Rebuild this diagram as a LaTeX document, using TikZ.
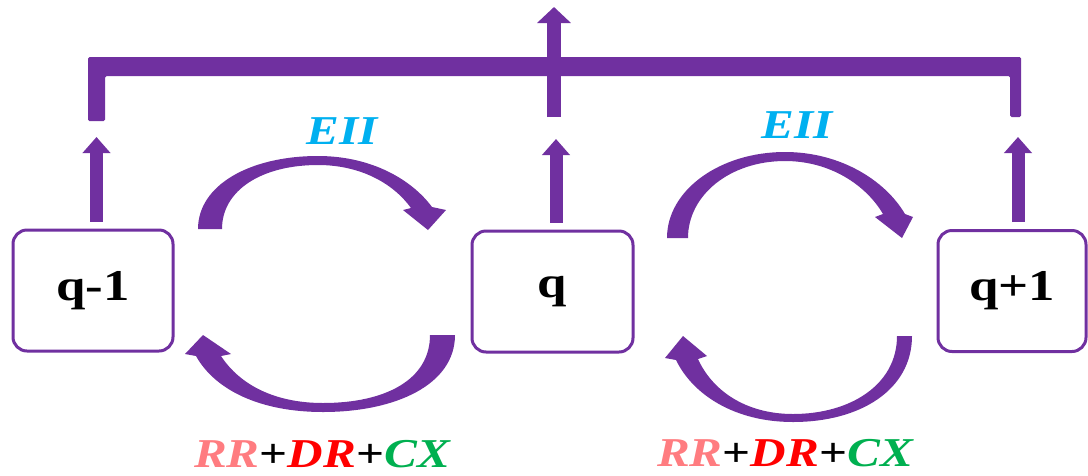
\documentclass[tikz,border=0pt]{standalone}
\usepackage{graphicx}
\usepackage{fontspec}
\setmainfont{Liberation Serif}
\usetikzlibrary{arrows.meta}
\definecolor{vio}{HTML}{7030A0}
\definecolor{eii}{HTML}{00B0F0}
\definecolor{rrc}{HTML}{FF7C80}
\definecolor{drc}{HTML}{FF0000}
\definecolor{cxc}{HTML}{00B050}
\newcommand{\wide}[1]{\scalebox{1.2}[1]{#1}}
\begin{document}
\begin{tikzpicture}[x=1pt,y=-1pt,
  statebox/.style={draw=vio, line width=3pt, rounded corners=14pt, fill=white, inner sep=0pt,
    font=\rmfamily\bfseries\fontsize{44}{48}\selectfont},
  uparrow/.style={draw=vio, line width=13pt, -{Triangle[width=27pt,length=16pt]}},
  curvearrow/.style={fill=vio},
  ratelabel/.style={font=\rmfamily\bfseries\itshape\fontsize{41}{44}\selectfont, inner sep=0pt},
  bracketbar/.style={fill=vio, rounded corners=1.5pt}]
\useasboundingbox[fill=white] (0,0) rectangle (1088,475);

% state boxes
\node[statebox, minimum width=160pt, minimum height=121pt] (qm) at (93,290.5) {\wide{q-1}};
\node[statebox, minimum width=161pt, minimum height=121pt] (q) at (552.5,291.5) {\wide{q}};
\node[statebox, minimum width=148pt, minimum height=121pt] (qp) at (1012,291) {\wide{q+1}};

% tips of small arrows
\coordinate (tL) at (96.5,137);
\coordinate (tM) at (556,139);
\coordinate (tR) at (1018,137);
\draw[uparrow, shorten <=7pt] (qm.north -| tL) -- (tL);
\draw[uparrow, shorten <=7pt] (q.north -| tM) -- (tM);
\draw[uparrow, shorten <=7pt] (qp.north -| tR) -- (tR);

% bracket
\fill[bracketbar] (88,121) -- (88,57) -- (1021,57) -- (1021,117) -- (1010,117)
  -- (1010,76) -- (105,76) -- (105,121) -- cycle;

% central output arrow
\coordinate (stemB) at (554,117);
\coordinate (stemT) at (554,7);
\draw[draw=vio, line width=14pt, -{Triangle[width=33pt,length=16pt]}] (stemB) -- (stemT);

% curved arrows (EII, top)
\fill[curvearrow] (198,229) .. controls (198,185) and (250,156) .. (318,156)
  .. controls (372,156) and (412,180) .. (432,207) -- (446,210) -- (428,230) -- (403,210) -- (411,208)
  .. controls (393,183) and (360,165) .. (318,165)
  .. controls (262,165) and (222,190) .. (222,229) -- cycle;
\fill[curvearrow] (667,238) .. controls (667,190) and (720,152) .. (785,152)
  .. controls (840,152) and (885,180) .. (905,214) -- (913,217) -- (902,238) -- (875,217) -- (883,214)
  .. controls (866,185) and (830,161) .. (785,161)
  .. controls (730,161) and (688,195) .. (688,238) -- cycle;

% curved arrows (bottom)
\fill[curvearrow] (455,335) .. controls (455,385) and (395,412) .. (323,412)
  .. controls (260,412) and (215,390) .. (196,356) -- (185,354) -- (203,335) -- (231,354) -- (221,356)
  .. controls (240,385) and (275,403) .. (323,403)
  .. controls (385,403) and (430,380) .. (430,335) -- cycle;
\fill[curvearrow] (912,336) .. controls (912,390) and (860,422) .. (793,422)
  .. controls (735,422) and (693,395) .. (676,360) -- (665,358) -- (683,336) -- (707,356) -- (698,359)
  .. controls (712,390) and (745,414) .. (793,414)
  .. controls (850,414) and (897,385) .. (897,336) -- cycle;

% labels
\node[ratelabel, text=eii] (eiiL) at (342,131) {\wide{EII}};
\node[ratelabel, text=eii] (eiiR) at (797,125) {\wide{EII}};
\node[ratelabel] (recL) at (322,454) {\wide{\textcolor{rrc}{RR}{\upshape+}\textcolor{drc}{DR}{\upshape+}\textcolor{cxc}{CX}}};
\node[ratelabel] (recR) at (785,453) {\wide{\textcolor{rrc}{RR}{\upshape+}\textcolor{drc}{DR}{\upshape+}\textcolor{cxc}{CX}}};
\end{tikzpicture}
\end{document}
